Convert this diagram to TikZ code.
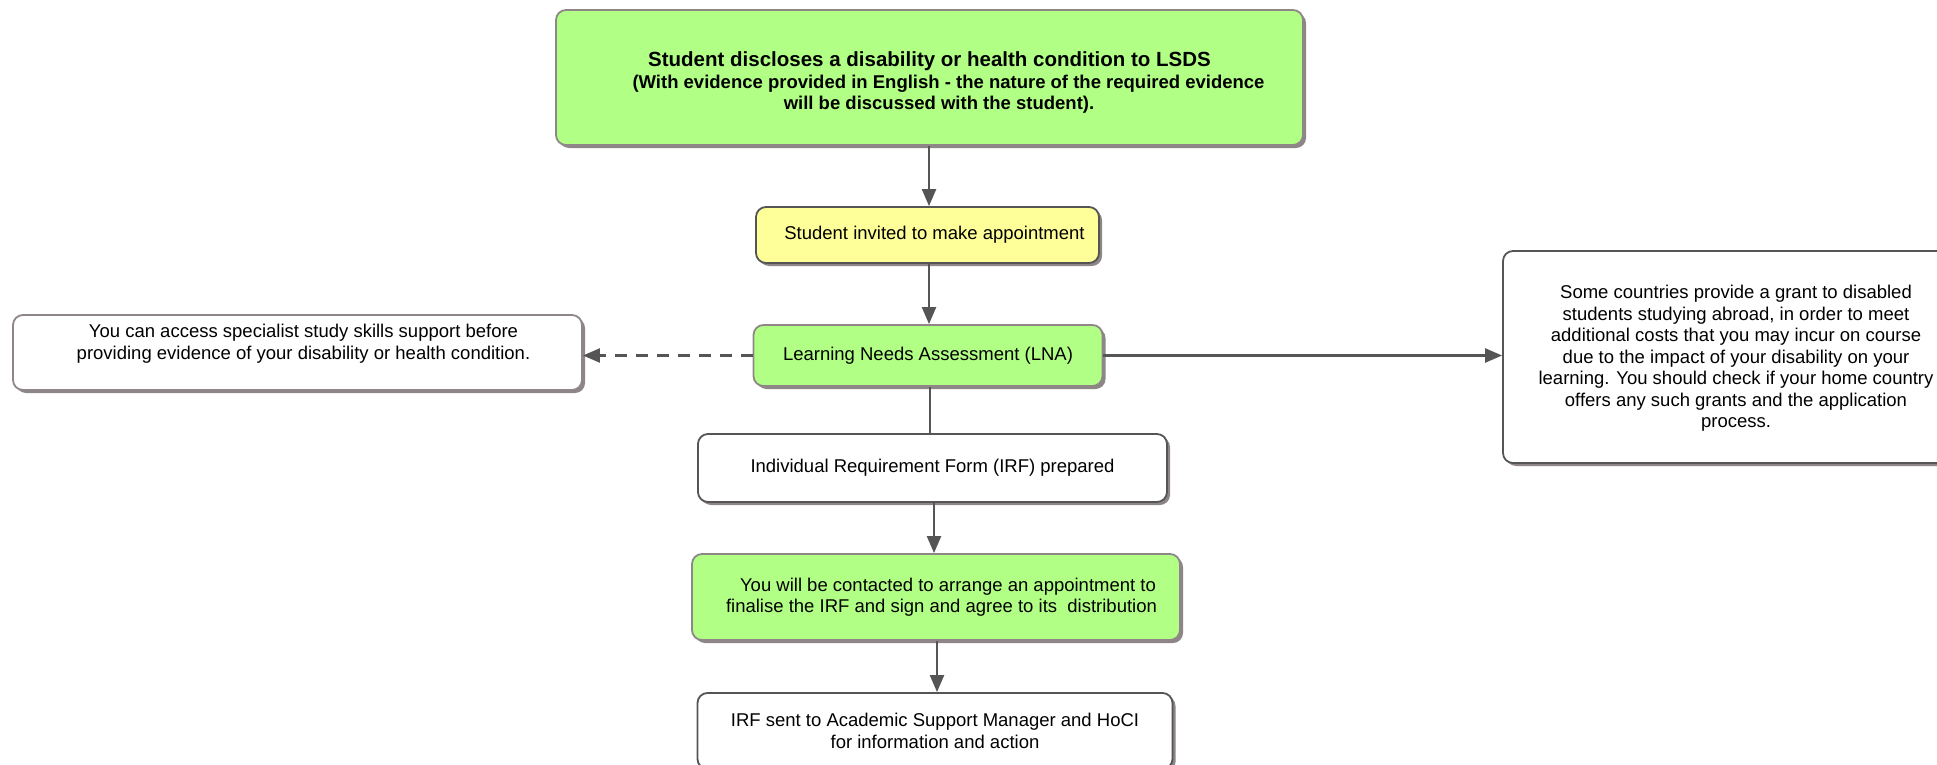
\documentclass[tikz,border=0pt]{standalone}
\usepackage{fontspec}
\setmainfont{Liberation Sans}
\usetikzlibrary{arrows.meta,shadows}
\definecolor{boxgreen}{HTML}{B2FF85}
\definecolor{boxyellow}{HTML}{FFFF99}
\definecolor{darkedge}{HTML}{555555}
\definecolor{lightedge}{HTML}{8F8787}
\definecolor{shadecol}{HTML}{8E8686}
\definecolor{arrcol}{HTML}{555555}
\begin{document}
\begin{tikzpicture}[x=1pt,y=-1pt,
  box/.style={line width=1.8pt, rounded corners=10pt, align=center, inner sep=0pt,
    font=\fontsize{18.5}{21.5}\selectfont,
    drop shadow={shadow xshift=3pt, shadow yshift=-3pt, fill=shadecol, opacity=1}},
  greenbox/.style={box, draw=lightedge, fill=boxgreen},
  yellowbox/.style={box, draw=darkedge, fill=boxyellow},
  whitebox/.style={box, draw=darkedge, fill=white},
  notebox/.style={box, draw=lightedge, fill=white},
  arr/.style={draw=arrcol, line width=2.2pt, -{Triangle[length=17pt,width=14pt]}},
  plainline/.style={draw=arrcol, line width=2.2pt},
  dasharr/.style={arr, dash pattern=on 12pt off 9pt}]
\useasboundingbox (0,0) rectangle (1937,765);
\node[greenbox, minimum width=747pt, minimum height=135pt] (top) at (929.5,77.5)
  {{\fontsize{20.5}{24}\selectfont\bfseries\rule{0pt}{25pt}Student discloses a disability or health condition to LSDS}\\
   {\bfseries\hspace*{38pt}(With evidence provided in English - the nature of the required evidence}\\
   {\bfseries\hspace*{19pt}will be discussed with the student).}};
\node[yellowbox, minimum width=343pt, minimum height=56pt] (inv) at (927.5,235)
  {\hspace*{14pt}Student invited to make appointment};
\node[greenbox, minimum width=349pt, minimum height=61pt] (lna) at (928,355.5)
  {Learning Needs Assessment (LNA)};
\node[notebox, minimum width=569pt, minimum height=75pt] (left) at (297.5,352.5)
  {\hspace*{12pt}You can access specialist study skills support before\\
   \hspace*{12pt}providing evidence of your disability or health condition.\\ \mbox{}};
\node[whitebox, minimum width=466pt, minimum height=212pt] (right) at (1736,357)
  {\rule{0pt}{16pt}Some countries provide a grant to disabled\\
   students studying abroad, in order to meet\\
   additional costs that you may incur on course\\
   due to the impact of your disability on your\\
   learning. You should check if your home country\\
   offers any such grants and the application\\
   process.};
\node[whitebox, minimum width=469pt, minimum height=68pt] (irf) at (932.5,468)
  {Individual Requirement Form (IRF) prepared};
\node[greenbox, minimum width=488pt, minimum height=86pt] (contact) at (936,597)
  {\hspace*{24pt}You will be contacted to arrange an appointment to\\
   \hspace*{11pt}finalise the IRF and sign and agree to its \ distribution};
\node[whitebox, minimum width=475pt, minimum height=76pt] (last) at (935,731)
  {IRF sent to Academic Support Manager and HoCI\\
   for information and action};
\draw[arr] (top.south -| 929,0) -- (inv.north -| 929,0);
\draw[arr] (inv.south -| 929,0) -- (lna.north -| 929,0);
\draw[plainline] (lna.south -| 930,0) -- (irf.north -| 930,0);
\draw[arr] (irf.south -| 934,0) -- (contact.north -| 934,0);
\draw[arr] (contact.south -| 937,0) -- (last.north -| 937,0);
\draw[arr] (lna.east) -- (lna.east -| right.west);
\draw[dasharr] (lna.west) -- (lna.west -| left.east);
\end{tikzpicture}
\end{document}
